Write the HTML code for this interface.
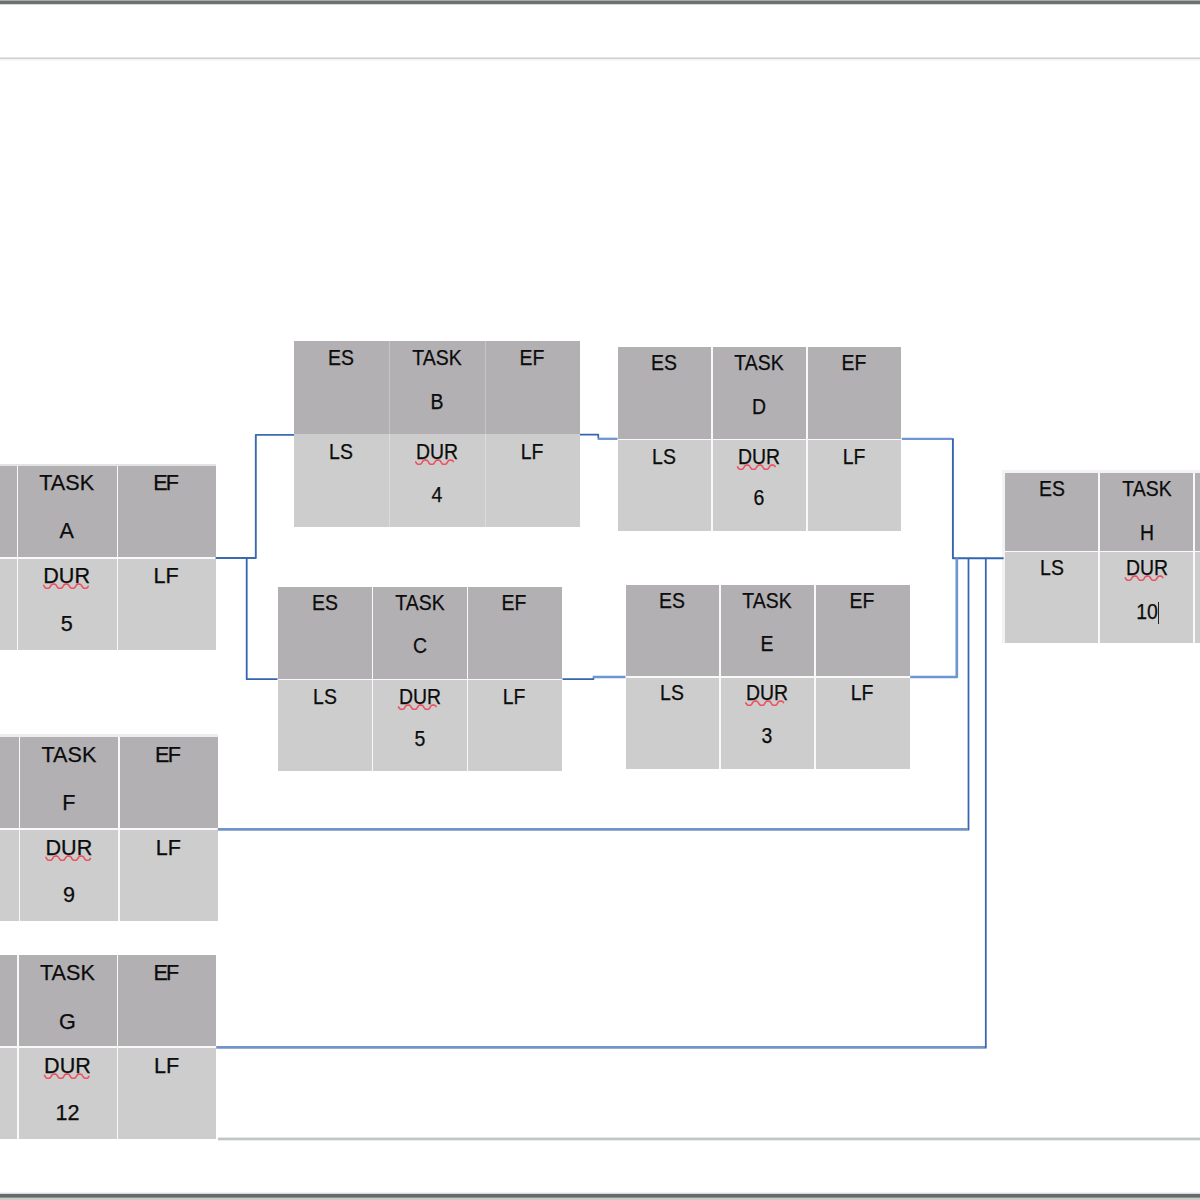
<!DOCTYPE html>
<html><head><meta charset="utf-8"><title>PERT</title>
<style>
html,body{margin:0;padding:0;background:#fff;}
body{width:1200px;height:1200px;position:relative;overflow:hidden;font-family:"Liberation Sans",sans-serif;}
.c{position:absolute;}
.t{position:absolute;color:#0c0c0c;font-size:21.6px;line-height:24px;height:24px;width:120px;text-align:center;white-space:nowrap;transform-origin:50% 50%;-webkit-text-stroke:0.25px #0c0c0c;}
.s9{transform:scaleX(0.9);}
svg{position:absolute;left:0;top:0;}
</style></head><body>

<div class="c" style="left:0px;top:0px;width:1200px;height:1px;background:#aaa9ab"></div>
<div class="c" style="left:0px;top:1px;width:1200px;height:3px;background:#6a736d"></div>
<div class="c" style="left:0px;top:4px;width:1200px;height:1px;background:#d6dbd6"></div>
<div class="c" style="left:0px;top:57px;width:1200px;height:1px;background:#e4e7e4"></div>
<div class="c" style="left:0px;top:58px;width:1200px;height:1px;background:#cbd1cb"></div>
<div class="c" style="left:0px;top:59px;width:1200px;height:2px;background:#f7f5f9"></div>
<div class="c" style="left:217.7px;top:1137.4px;width:983px;height:1px;background:#e6e8e6"></div>
<div class="c" style="left:217.7px;top:1138.4px;width:983px;height:1.6px;background:#c2c6c2"></div>
<div class="c" style="left:217.7px;top:1140px;width:983px;height:1px;background:#ecedf0"></div>
<div class="c" style="left:0px;top:1192px;width:1200px;height:1px;background:#f0f1f5"></div>
<div class="c" style="left:0px;top:1193px;width:1200px;height:1px;background:#d9d9dc"></div>
<div class="c" style="left:0px;top:1194px;width:1200px;height:3px;background:#67676d"></div>
<div class="c" style="left:0px;top:1197px;width:1200px;height:1px;background:#8e8f93"></div>
<div class="c" style="left:0px;top:1198px;width:1200px;height:2px;background:#c5ccc5"></div>
<div class="c" style="left:1002px;top:469.7px;width:200px;height:173.1px;background:#f3f2f4"></div>
<div class="c" style="left:1004.5px;top:472.5px;width:200px;height:170.3px;background:#fff"></div>
<div class="c" style="left:0;top:463.6px;width:215.6px;height:2.4px;background:#e1e4e1"></div>
<div class="c" style="left:0;top:734.4px;width:217.6px;height:3px;background:#ecedec"></div>
<div class="c" style="left:-80.00px;top:466.00px;width:295.60px;height:92.00px;background:#b2b0b3"></div>
<div class="c" style="left:-80.00px;top:558.00px;width:295.60px;height:92.30px;background:#cdcdcd"></div>
<div class="c" style="left:16.95px;top:466.00px;width:1.50px;height:184.30px;background:#f9f9f9"></div>
<div class="c" style="left:116.85px;top:466.00px;width:1.50px;height:184.30px;background:#f9f9f9"></div>
<div class="c" style="left:-80.00px;top:557.25px;width:295.60px;height:1.50px;background:#f9f9f9"></div>
<div class="t" style="left:6.65px;top:470.92px">TASK</div>
<div class="t" style="left:6.65px;top:518.92px">A</div>
<div class="t" style="left:6.65px;top:563.92px">DUR</div>
<div class="t" style="left:6.65px;top:611.92px">5</div>
<div class="t" style="left:106.60px;top:470.92px"><span style="letter-spacing:-1.8px;margin-left:-0.9px">E</span>F</div>
<div class="t" style="left:106.10px;top:563.92px">LF</div>
<div class="c" style="left:294.00px;top:341.00px;width:286.00px;height:92.80px;background:#b2b0b3"></div>
<div class="c" style="left:294.00px;top:433.80px;width:286.00px;height:93.20px;background:#cdcdcd"></div>
<div class="c" style="left:389.00px;top:341.00px;width:1.00px;height:92.80px;background:#c6c5c6"></div>
<div class="c" style="left:389.00px;top:433.80px;width:1.00px;height:93.20px;background:#dcdddb"></div>
<div class="c" style="left:484.50px;top:341.00px;width:1.00px;height:92.80px;background:#c6c5c6"></div>
<div class="c" style="left:484.50px;top:433.80px;width:1.00px;height:93.20px;background:#dcdddb"></div>
<div class="t s9" style="left:281.45px;top:346.02px">ES</div>
<div class="t s9" style="left:281.45px;top:439.92px">LS</div>
<div class="t s9" style="left:376.95px;top:346.02px">TASK</div>
<div class="t s9" style="left:376.95px;top:389.52px">B</div>
<div class="t s9" style="left:376.95px;top:439.92px">DUR</div>
<div class="t s9" style="left:376.95px;top:482.82px">4</div>
<div class="t s9" style="left:472.20px;top:346.02px">EF</div>
<div class="t s9" style="left:472.20px;top:439.92px">LF</div>
<div class="c" style="left:617.50px;top:347.00px;width:283.90px;height:92.25px;background:#b2b0b3"></div>
<div class="c" style="left:617.50px;top:439.25px;width:283.90px;height:91.25px;background:#cdcdcd"></div>
<div class="c" style="left:711.00px;top:347.00px;width:1.50px;height:183.50px;background:#f9f9f9"></div>
<div class="c" style="left:806.00px;top:347.00px;width:1.50px;height:183.50px;background:#f9f9f9"></div>
<div class="c" style="left:617.50px;top:438.50px;width:283.90px;height:1.50px;background:#f9f9f9"></div>
<div class="t s9" style="left:604.12px;top:351.12px">ES</div>
<div class="t s9" style="left:604.12px;top:444.92px">LS</div>
<div class="t s9" style="left:698.75px;top:351.12px">TASK</div>
<div class="t s9" style="left:698.75px;top:394.92px">D</div>
<div class="t s9" style="left:698.75px;top:444.92px">DUR</div>
<div class="t s9" style="left:698.75px;top:486.12px">6</div>
<div class="t s9" style="left:793.58px;top:351.12px">EF</div>
<div class="t s9" style="left:793.58px;top:444.92px">LF</div>
<div class="c" style="left:278.00px;top:587.00px;width:284.00px;height:92.25px;background:#b2b0b3"></div>
<div class="c" style="left:278.00px;top:679.25px;width:284.00px;height:92.00px;background:#cdcdcd"></div>
<div class="c" style="left:371.75px;top:587.00px;width:1.50px;height:184.25px;background:#f9f9f9"></div>
<div class="c" style="left:466.75px;top:587.00px;width:1.50px;height:184.25px;background:#f9f9f9"></div>
<div class="c" style="left:278.00px;top:678.50px;width:284.00px;height:1.50px;background:#f9f9f9"></div>
<div class="t s9" style="left:264.95px;top:590.62px">ES</div>
<div class="t s9" style="left:264.95px;top:684.92px">LS</div>
<div class="t s9" style="left:359.70px;top:590.62px">TASK</div>
<div class="t s9" style="left:359.70px;top:634.42px">C</div>
<div class="t s9" style="left:359.70px;top:684.92px">DUR</div>
<div class="t s9" style="left:359.70px;top:727.42px">5</div>
<div class="t s9" style="left:454.45px;top:590.62px">EF</div>
<div class="t s9" style="left:454.45px;top:684.92px">LF</div>
<div class="c" style="left:625.50px;top:585.00px;width:284.25px;height:91.75px;background:#b2b0b3"></div>
<div class="c" style="left:625.50px;top:676.75px;width:284.25px;height:91.75px;background:#cdcdcd"></div>
<div class="c" style="left:719.00px;top:585.00px;width:1.50px;height:183.50px;background:#f9f9f9"></div>
<div class="c" style="left:814.25px;top:585.00px;width:1.50px;height:183.50px;background:#f9f9f9"></div>
<div class="c" style="left:625.50px;top:676.00px;width:284.25px;height:1.50px;background:#f9f9f9"></div>
<div class="t s9" style="left:612.33px;top:589.12px">ES</div>
<div class="t s9" style="left:612.33px;top:681.12px">LS</div>
<div class="t s9" style="left:707.08px;top:589.12px">TASK</div>
<div class="t s9" style="left:707.08px;top:632.42px">E</div>
<div class="t s9" style="left:707.08px;top:681.12px">DUR</div>
<div class="t s9" style="left:707.08px;top:724.12px">3</div>
<div class="t s9" style="left:802.08px;top:589.12px">EF</div>
<div class="t s9" style="left:802.08px;top:681.12px">LF</div>
<div class="c" style="left:1004.50px;top:473.00px;width:285.50px;height:78.70px;background:#b2b0b3"></div>
<div class="c" style="left:1004.50px;top:551.70px;width:285.50px;height:91.10px;background:#cdcdcd"></div>
<div class="c" style="left:1098.45px;top:473.00px;width:1.50px;height:169.80px;background:#f9f9f9"></div>
<div class="c" style="left:1193.45px;top:473.00px;width:1.50px;height:169.80px;background:#f9f9f9"></div>
<div class="c" style="left:1004.50px;top:550.95px;width:285.50px;height:1.50px;background:#f9f9f9"></div>
<div class="t s9" style="left:991.65px;top:476.72px">ES</div>
<div class="t s9" style="left:991.65px;top:556.22px">LS</div>
<div class="t s9" style="left:1086.50px;top:476.72px">TASK</div>
<div class="t s9" style="left:1086.50px;top:520.92px">H</div>
<div class="t s9" style="left:1086.50px;top:556.22px">DUR</div>
<div class="t s9" style="left:1086.50px;top:600.02px">10</div>
<div class="c" style="left:-80.00px;top:737.40px;width:297.60px;height:91.40px;background:#b2b0b3"></div>
<div class="c" style="left:-80.00px;top:828.80px;width:297.60px;height:92.50px;background:#cdcdcd"></div>
<div class="c" style="left:18.50px;top:737.40px;width:1.50px;height:183.90px;background:#f9f9f9"></div>
<div class="c" style="left:118.45px;top:737.40px;width:1.50px;height:183.90px;background:#f9f9f9"></div>
<div class="c" style="left:-80.00px;top:828.05px;width:297.60px;height:1.50px;background:#f9f9f9"></div>
<div class="t" style="left:8.92px;top:743.02px">TASK</div>
<div class="t" style="left:8.92px;top:791.02px">F</div>
<div class="t" style="left:8.92px;top:836.02px">DUR</div>
<div class="t" style="left:8.92px;top:882.72px">9</div>
<div class="t" style="left:108.40px;top:743.02px"><span style="letter-spacing:-1.8px;margin-left:-0.9px">E</span>F</div>
<div class="t" style="left:108.25px;top:836.02px">LF</div>
<div class="c" style="left:-80.00px;top:955.30px;width:296.00px;height:91.90px;background:#b2b0b3"></div>
<div class="c" style="left:-80.00px;top:1047.20px;width:296.00px;height:92.10px;background:#cdcdcd"></div>
<div class="c" style="left:17.15px;top:955.30px;width:1.50px;height:184.00px;background:#f9f9f9"></div>
<div class="c" style="left:116.85px;top:955.30px;width:1.50px;height:184.00px;background:#f9f9f9"></div>
<div class="c" style="left:-80.00px;top:1046.45px;width:296.00px;height:1.50px;background:#f9f9f9"></div>
<div class="t" style="left:7.45px;top:960.52px">TASK</div>
<div class="t" style="left:7.45px;top:1009.72px">G</div>
<div class="t" style="left:7.45px;top:1053.82px">DUR</div>
<div class="t" style="left:7.45px;top:1100.72px">12</div>
<div class="t" style="left:106.80px;top:960.52px"><span style="letter-spacing:-1.8px;margin-left:-0.9px">E</span>F</div>
<div class="t" style="left:106.65px;top:1053.82px">LF</div>
<svg width="1200" height="1200" viewBox="0 0 1200 1200">
<polyline points="215.60,558.00 255.80,558.00 255.80,434.90 294.00,434.90" fill="none" stroke="#3b6ab3" stroke-width="1.9" stroke-linejoin="round"/>
<polyline points="246.70,558.00 246.70,679.20 277.50,679.20" fill="none" stroke="#3565b0" stroke-width="1.8" stroke-linejoin="round"/>
<polyline points="580.00,434.60 598.30,434.60 598.30,438.00" fill="none" stroke="#3565b0" stroke-width="1.7" stroke-linejoin="round"/>
<polyline points="597.60,438.80 617.50,438.80" fill="none" stroke="#6d96d2" stroke-width="2.3" stroke-linejoin="round"/>
<polyline points="562.50,679.10 593.50,679.10 593.50,677.60" fill="none" stroke="#3565b0" stroke-width="1.7" stroke-linejoin="round"/>
<polyline points="592.80,677.00 625.50,677.00" fill="none" stroke="#6d96d2" stroke-width="2.4" stroke-linejoin="round"/>
<polyline points="901.80,438.90 952.00,438.90" fill="none" stroke="#6d96d2" stroke-width="2.3" stroke-linejoin="round"/>
<polyline points="952.90,438.20 952.90,558.20 1003.60,558.20" fill="none" stroke="#3565b0" stroke-width="1.9" stroke-linejoin="round"/>
<polyline points="910.20,677.00 956.80,677.00 956.80,558.20" fill="none" stroke="#6d96d2" stroke-width="2.7" stroke-linejoin="round"/>
<polyline points="217.80,829.30 967.70,829.30" fill="none" stroke="#7093c8" stroke-width="2.7" stroke-linejoin="round"/>
<polyline points="968.50,830.60 968.50,558.20" fill="none" stroke="#3565b0" stroke-width="1.75" stroke-linejoin="round"/>
<polyline points="216.20,1047.30 985.00,1047.30" fill="none" stroke="#7093c8" stroke-width="2.7" stroke-linejoin="round"/>
<polyline points="985.80,1048.60 985.80,558.20" fill="none" stroke="#3565b0" stroke-width="1.75" stroke-linejoin="round"/>
<path d="M43.65 585.34 L44.27 586.31 L44.89 587.25 L45.50 587.92 L46.12 588.24 L46.74 588.32 L47.36 588.32 L47.98 588.32 L48.59 588.24 L49.21 587.91 L49.83 587.23 L50.45 586.28 L51.07 585.31 L51.68 584.58 L52.30 584.19 L52.92 584.09 L53.54 584.08 L54.16 584.08 L54.77 584.13 L55.39 584.40 L56.01 585.01 L56.63 585.92 L57.25 586.91 L57.87 587.71 L58.48 588.16 L59.10 588.31 L59.72 588.32 L60.34 588.32 L60.96 588.29 L61.57 588.08 L62.19 587.53 L62.81 586.67 L63.43 585.67 L64.05 584.82 L64.66 584.30 L65.28 584.11 L65.90 584.08 L66.52 584.08 L67.14 584.10 L67.75 584.26 L68.37 584.73 L68.99 585.55 L69.61 586.54 L70.23 587.44 L70.84 588.03 L71.46 588.28 L72.08 588.32 L72.70 588.32 L73.32 588.31 L73.93 588.19 L74.55 587.79 L75.17 587.03 L75.79 586.06 L76.41 585.12 L77.02 584.46 L77.64 584.15 L78.26 584.08 L78.88 584.08 L79.50 584.08 L80.12 584.17 L80.73 584.51 L81.35 585.20 L81.97 586.15 L82.59 587.12 L83.21 587.84 L83.82 588.21 L84.44 588.31 L85.06 588.32 L85.68 588.32 L86.30 588.26 L86.91 587.99 L87.53 587.36 L88.15 586.44" fill="none" stroke="#ec5260" stroke-width="1.6" stroke-linejoin="round" stroke-linecap="round"/>
<path d="M415.75 461.96 L416.27 462.80 L416.79 463.52 L417.32 464.01 L417.84 464.25 L418.36 464.32 L418.88 464.32 L419.41 464.32 L419.93 464.30 L420.45 464.19 L420.97 463.86 L421.49 463.28 L422.02 462.50 L422.54 461.66 L423.06 460.92 L423.58 460.42 L424.11 460.16 L424.63 460.09 L425.15 460.08 L425.67 460.08 L426.19 460.09 L426.72 460.20 L427.24 460.51 L427.76 461.08 L428.28 461.85 L428.81 462.69 L429.33 463.44 L429.85 463.96 L430.37 464.23 L430.89 464.31 L431.42 464.32 L431.94 464.32 L432.46 464.31 L432.98 464.21 L433.51 463.92 L434.03 463.37 L434.55 462.60 L435.07 461.76 L435.59 461.00 L436.12 460.47 L436.64 460.18 L437.16 460.09 L437.68 460.08 L438.21 460.08 L438.73 460.09 L439.25 460.18 L439.77 460.46 L440.29 460.99 L440.82 461.74 L441.34 462.59 L441.86 463.35 L442.38 463.91 L442.91 464.21 L443.43 464.31 L443.95 464.32 L444.47 464.32 L444.99 464.31 L445.52 464.23 L446.04 463.97 L446.56 463.45 L447.08 462.71 L447.61 461.87 L448.13 461.09 L448.65 460.52 L449.17 460.21 L449.69 460.09 L450.22 460.08 L450.74 460.08 L451.26 460.09 L451.78 460.16 L452.31 460.41 L452.83 460.91 L453.35 461.64" fill="none" stroke="#ec5260" stroke-width="1.6" stroke-linejoin="round" stroke-linecap="round"/>
<path d="M737.55 466.96 L738.07 467.80 L738.59 468.52 L739.12 469.01 L739.64 469.25 L740.16 469.32 L740.68 469.32 L741.21 469.32 L741.73 469.30 L742.25 469.19 L742.77 468.86 L743.29 468.28 L743.82 467.50 L744.34 466.66 L744.86 465.92 L745.38 465.42 L745.91 465.16 L746.43 465.09 L746.95 465.08 L747.47 465.08 L747.99 465.09 L748.52 465.20 L749.04 465.51 L749.56 466.08 L750.08 466.85 L750.61 467.69 L751.13 468.44 L751.65 468.96 L752.17 469.23 L752.69 469.31 L753.22 469.32 L753.74 469.32 L754.26 469.31 L754.78 469.21 L755.31 468.92 L755.83 468.37 L756.35 467.60 L756.87 466.76 L757.39 466.00 L757.92 465.47 L758.44 465.18 L758.96 465.09 L759.48 465.08 L760.01 465.08 L760.53 465.09 L761.05 465.18 L761.57 465.46 L762.09 465.99 L762.62 466.74 L763.14 467.59 L763.66 468.35 L764.18 468.91 L764.71 469.21 L765.23 469.31 L765.75 469.32 L766.27 469.32 L766.79 469.31 L767.32 469.23 L767.84 468.97 L768.36 468.45 L768.88 467.71 L769.41 466.87 L769.93 466.09 L770.45 465.52 L770.97 465.21 L771.49 465.09 L772.02 465.08 L772.54 465.08 L773.06 465.09 L773.58 465.16 L774.11 465.41 L774.63 465.91 L775.15 466.64" fill="none" stroke="#ec5260" stroke-width="1.6" stroke-linejoin="round" stroke-linecap="round"/>
<path d="M398.50 706.96 L399.02 707.80 L399.54 708.52 L400.07 709.01 L400.59 709.25 L401.11 709.32 L401.63 709.32 L402.16 709.32 L402.68 709.30 L403.20 709.19 L403.72 708.86 L404.24 708.28 L404.77 707.50 L405.29 706.66 L405.81 705.92 L406.33 705.42 L406.86 705.16 L407.38 705.09 L407.90 705.08 L408.42 705.08 L408.94 705.09 L409.47 705.20 L409.99 705.51 L410.51 706.08 L411.03 706.85 L411.56 707.69 L412.08 708.44 L412.60 708.96 L413.12 709.23 L413.64 709.31 L414.17 709.32 L414.69 709.32 L415.21 709.31 L415.73 709.21 L416.26 708.92 L416.78 708.37 L417.30 707.60 L417.82 706.76 L418.34 706.00 L418.87 705.47 L419.39 705.18 L419.91 705.09 L420.43 705.08 L420.96 705.08 L421.48 705.09 L422.00 705.18 L422.52 705.46 L423.04 705.99 L423.57 706.74 L424.09 707.59 L424.61 708.35 L425.13 708.91 L425.66 709.21 L426.18 709.31 L426.70 709.32 L427.22 709.32 L427.74 709.31 L428.27 709.23 L428.79 708.97 L429.31 708.45 L429.83 707.71 L430.36 706.87 L430.88 706.09 L431.40 705.52 L431.92 705.21 L432.44 705.09 L432.97 705.08 L433.49 705.08 L434.01 705.09 L434.53 705.16 L435.06 705.41 L435.58 705.91 L436.10 706.64" fill="none" stroke="#ec5260" stroke-width="1.6" stroke-linejoin="round" stroke-linecap="round"/>
<path d="M745.88 702.96 L746.40 703.80 L746.92 704.52 L747.44 705.01 L747.96 705.25 L748.49 705.32 L749.01 705.32 L749.53 705.32 L750.05 705.30 L750.58 705.19 L751.10 704.86 L751.62 704.28 L752.14 703.50 L752.66 702.66 L753.19 701.92 L753.71 701.42 L754.23 701.16 L754.75 701.09 L755.27 701.08 L755.80 701.08 L756.32 701.09 L756.84 701.20 L757.36 701.51 L757.89 702.08 L758.41 702.85 L758.93 703.69 L759.45 704.44 L759.98 704.96 L760.50 705.23 L761.02 705.31 L761.54 705.32 L762.06 705.32 L762.59 705.31 L763.11 705.21 L763.63 704.92 L764.15 704.37 L764.67 703.60 L765.20 702.76 L765.72 702.00 L766.24 701.47 L766.76 701.18 L767.29 701.09 L767.81 701.08 L768.33 701.08 L768.85 701.09 L769.38 701.18 L769.90 701.46 L770.42 701.99 L770.94 702.74 L771.46 703.59 L771.99 704.35 L772.51 704.91 L773.03 705.21 L773.55 705.31 L774.08 705.32 L774.60 705.32 L775.12 705.31 L775.64 705.23 L776.16 704.97 L776.69 704.45 L777.21 703.71 L777.73 702.87 L778.25 702.09 L778.77 701.52 L779.30 701.21 L779.82 701.09 L780.34 701.08 L780.86 701.08 L781.39 701.09 L781.91 701.16 L782.43 701.41 L782.95 701.91 L783.48 702.64" fill="none" stroke="#ec5260" stroke-width="1.6" stroke-linejoin="round" stroke-linecap="round"/>
<path d="M1125.30 577.96 L1125.82 578.80 L1126.34 579.52 L1126.87 580.01 L1127.39 580.25 L1127.91 580.32 L1128.43 580.32 L1128.96 580.32 L1129.48 580.30 L1130.00 580.19 L1130.52 579.86 L1131.04 579.28 L1131.57 578.50 L1132.09 577.66 L1132.61 576.92 L1133.13 576.42 L1133.66 576.16 L1134.18 576.09 L1134.70 576.08 L1135.22 576.08 L1135.74 576.09 L1136.27 576.20 L1136.79 576.51 L1137.31 577.08 L1137.83 577.85 L1138.36 578.69 L1138.88 579.44 L1139.40 579.96 L1139.92 580.23 L1140.44 580.31 L1140.97 580.32 L1141.49 580.32 L1142.01 580.31 L1142.53 580.21 L1143.06 579.92 L1143.58 579.37 L1144.10 578.60 L1144.62 577.76 L1145.14 577.00 L1145.67 576.47 L1146.19 576.18 L1146.71 576.09 L1147.23 576.08 L1147.76 576.08 L1148.28 576.09 L1148.80 576.18 L1149.32 576.46 L1149.84 576.99 L1150.37 577.74 L1150.89 578.59 L1151.41 579.35 L1151.93 579.91 L1152.46 580.21 L1152.98 580.31 L1153.50 580.32 L1154.02 580.32 L1154.54 580.31 L1155.07 580.23 L1155.59 579.97 L1156.11 579.45 L1156.63 578.71 L1157.16 577.87 L1157.68 577.09 L1158.20 576.52 L1158.72 576.21 L1159.24 576.09 L1159.77 576.08 L1160.29 576.08 L1160.81 576.09 L1161.33 576.16 L1161.86 576.41 L1162.38 576.91 L1162.90 577.64" fill="none" stroke="#ec5260" stroke-width="1.6" stroke-linejoin="round" stroke-linecap="round"/>
<path d="M45.92 857.34 L46.54 858.31 L47.16 859.25 L47.78 859.92 L48.40 860.24 L49.02 860.32 L49.63 860.32 L50.25 860.32 L50.87 860.24 L51.49 859.91 L52.11 859.23 L52.72 858.28 L53.34 857.31 L53.96 856.58 L54.58 856.19 L55.20 856.09 L55.81 856.08 L56.43 856.08 L57.05 856.13 L57.67 856.40 L58.29 857.01 L58.90 857.92 L59.52 858.91 L60.14 859.71 L60.76 860.16 L61.38 860.31 L61.99 860.32 L62.61 860.32 L63.23 860.29 L63.85 860.08 L64.47 859.53 L65.08 858.67 L65.70 857.67 L66.32 856.82 L66.94 856.30 L67.56 856.11 L68.17 856.08 L68.79 856.08 L69.41 856.10 L70.03 856.26 L70.65 856.73 L71.27 857.55 L71.88 858.54 L72.50 859.44 L73.12 860.03 L73.74 860.28 L74.36 860.32 L74.97 860.32 L75.59 860.31 L76.21 860.19 L76.83 859.79 L77.45 859.03 L78.06 858.06 L78.68 857.12 L79.30 856.46 L79.92 856.15 L80.54 856.08 L81.15 856.08 L81.77 856.08 L82.39 856.17 L83.01 856.51 L83.63 857.20 L84.24 858.15 L84.86 859.12 L85.48 859.84 L86.10 860.21 L86.72 860.31 L87.33 860.32 L87.95 860.32 L88.57 860.26 L89.19 859.99 L89.81 859.36 L90.42 858.44" fill="none" stroke="#ec5260" stroke-width="1.6" stroke-linejoin="round" stroke-linecap="round"/>
<path d="M44.45 1075.34 L45.07 1076.31 L45.69 1077.25 L46.30 1077.92 L46.92 1078.24 L47.54 1078.32 L48.16 1078.32 L48.78 1078.32 L49.39 1078.24 L50.01 1077.91 L50.63 1077.23 L51.25 1076.28 L51.87 1075.31 L52.48 1074.58 L53.10 1074.19 L53.72 1074.09 L54.34 1074.08 L54.96 1074.08 L55.58 1074.13 L56.19 1074.40 L56.81 1075.01 L57.43 1075.92 L58.05 1076.91 L58.67 1077.71 L59.28 1078.16 L59.90 1078.31 L60.52 1078.32 L61.14 1078.32 L61.76 1078.29 L62.37 1078.08 L62.99 1077.53 L63.61 1076.67 L64.23 1075.67 L64.85 1074.82 L65.46 1074.30 L66.08 1074.11 L66.70 1074.08 L67.32 1074.08 L67.94 1074.10 L68.55 1074.26 L69.17 1074.73 L69.79 1075.55 L70.41 1076.54 L71.03 1077.44 L71.64 1078.03 L72.26 1078.28 L72.88 1078.32 L73.50 1078.32 L74.12 1078.31 L74.73 1078.19 L75.35 1077.79 L75.97 1077.03 L76.59 1076.06 L77.21 1075.12 L77.83 1074.46 L78.44 1074.15 L79.06 1074.08 L79.68 1074.08 L80.30 1074.08 L80.92 1074.17 L81.53 1074.51 L82.15 1075.20 L82.77 1076.15 L83.39 1077.12 L84.01 1077.84 L84.62 1078.21 L85.24 1078.31 L85.86 1078.32 L86.48 1078.32 L87.10 1078.26 L87.71 1077.99 L88.33 1077.36 L88.95 1076.44" fill="none" stroke="#ec5260" stroke-width="1.6" stroke-linejoin="round" stroke-linecap="round"/>
</svg>
<div class="c" style="left:1157.7px;top:602px;width:1.3px;height:21.5px;background:#222"></div>
</body></html>
